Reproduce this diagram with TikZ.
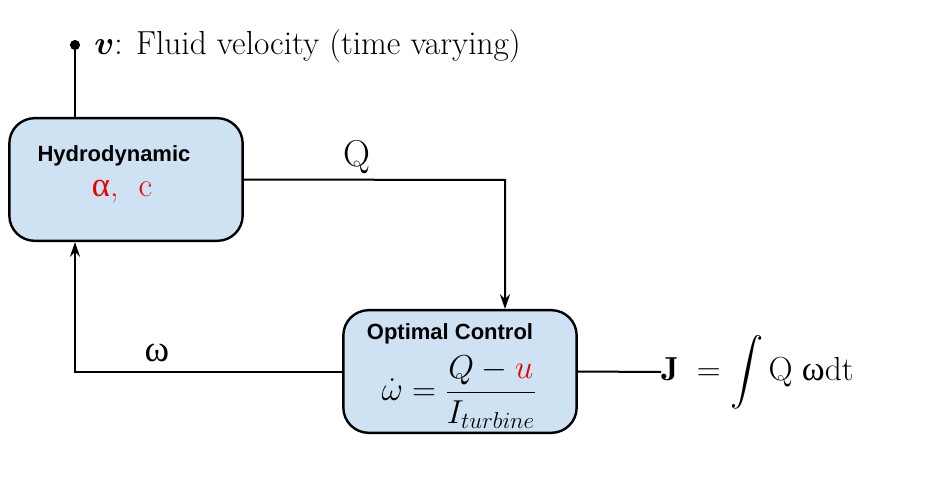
\documentclass[tikz,border=0pt]{standalone}
\usepackage{amsmath}
\usepackage{fontspec}
\usepackage{bm}
\usetikzlibrary{calc,arrows.meta,positioning}
\newfontfamily\labelsans{Liberation Sans}
\newfontfamily\greekup{Liberation Serif}
\definecolor{blockBlue}{RGB}{207,226,243}
\definecolor{paramRed}{RGB}{235,0,0}
\tikzset{
    blockbox/.style={draw=black, fill=blockBlue, line width=1.8pt, rounded corners=19pt,
        minimum width=175pt, minimum height=92pt, inner sep=0pt},
    sigline/.style={draw=black, line width=1.5pt},
    sigarrow/.style={sigline, -{Stealth[length=11pt,width=7.5pt]}},
    blocktitle/.style={font=\labelsans\bfseries\fontsize{16.5}{19}\selectfont},
    sigtext/.style={font=\fontsize{25}{30}\selectfont, inner sep=0pt}
}

\begin{document}
\begin{tikzpicture}[x=0.75pt,y=-0.75pt]
    \useasboundingbox (0,0) rectangle (927,499);

    % blocks
    \node[blockbox] (hydro) at (126,179.5) {};
    \node[blockbox] (optctl) at (460,371.5) {};

    % block contents
    \node[blocktitle] (hydroname) at (114,156) {Hydrodynamic};
    \node[sigtext, text=paramRed] (hydropar) at (122,192) {{\greekup\fontsize{26}{30}\selectfont α},\ \ c};
    \node[blocktitle] (optname) at (450,334) {Optimal Control};
    \node[sigtext] (optlaw) at (459,392)
        {$\displaystyle \dot{\omega} = \frac{Q - \textcolor{paramRed}{u}}{I_{turbine}}$};

    % fluid velocity input
    \coordinate (vin) at (75,45);
    \draw[sigline] (vin) -- (vin |- hydro.north);
    \fill (vin) circle (3.8pt);
    \node[sigtext, anchor=west] (vtext) at (94,46) {$\bm{v}$: Fluid velocity (time varying)};

    % Q: hydrodynamic -> optimal control
    \coordinate (qdrop) at (505,180);
    \draw[sigarrow] (hydro.east) -- (qdrop) -- (qdrop |- optctl.north);
    \node[sigtext, font=\fontsize{28}{32}\selectfont] (qlab) at (357,157) {Q};

    % omega: optimal control -> hydrodynamic
    \draw[sigarrow] (optctl.west) -- (vin |- optctl.west) -- (vin |- hydro.south);
    \node[sigtext] (wlab) at (157,353) {\greekup\fontsize{28}{32}\selectfont ω};

    % cost output
    \node[sigtext, anchor=west] (jexpr) at (661,372)
        {$\mathbf{J}\;=\displaystyle\int \mathrm{Q}\;${\greekup\fontsize{26}{30}\selectfont ω}dt};
    \draw[sigline] (optctl.east) -- (jexpr.west);

\end{tikzpicture}
\end{document}
